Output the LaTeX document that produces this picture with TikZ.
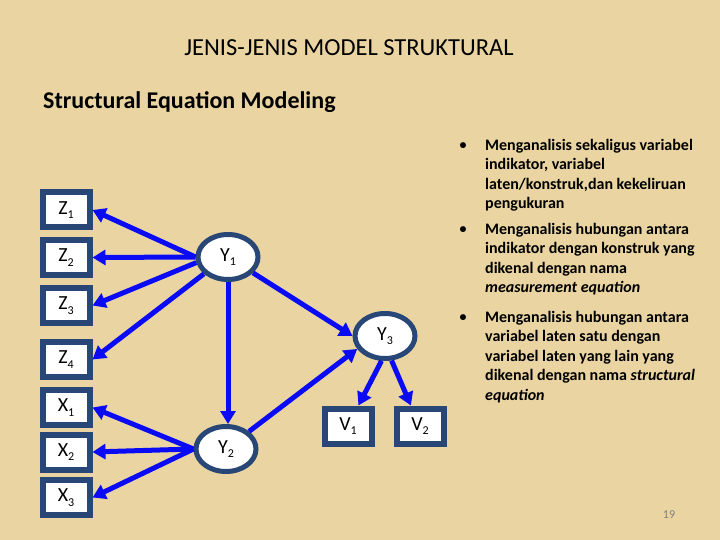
\documentclass[tikz,border=0pt]{standalone}
\usepackage{fontspec}
\setmainfont{Carlito}
\usetikzlibrary{arrows.meta,shapes.geometric}
\definecolor{bgtan}{RGB}{234,213,162}
\definecolor{boxblue}{RGB}{40,70,118}
\definecolor{arrblue}{RGB}{10,10,245}
\newcommand\lsub[1]{\raisebox{-0.45ex}{\fontsize{12}{12}\selectfont #1}}
\begin{document}
\begin{tikzpicture}[x=1pt,y=-1pt,
  obs/.style={draw=boxblue,line width=6pt,fill=white,minimum width=47pt,minimum height=35pt,inner sep=0pt,font=\fontsize{20}{20}\selectfont},
  lat/.style={ellipse,draw=boxblue,line width=5pt,fill=white,minimum width=60pt,minimum height=45pt,inner sep=0pt,font=\fontsize{20}{20}\selectfont},
  arr/.style={draw=arrblue,line width=5pt,-{Triangle[length=13pt,width=15pt]}},
  bul/.style={anchor=north west,inner sep=0pt,align=left,font=\fontsize{16}{19.5}\selectfont\bfseries},
  dot/.style={inner sep=0pt,font=\fontsize{14}{14}\selectfont\bfseries}]
\fill[bgtan] (0,0) rectangle (720,540);
\useasboundingbox (0,0) rectangle (720,540);
% titles
\node (title) at (349,48) {\fontsize{24.5}{24.5}\selectfont JENIS-JENIS MODEL STRUKTURAL};
\node[anchor=west,inner sep=0pt] (sub) at (43,102) {\fontsize{24}{24}\selectfont\bfseries Structural Equation Modeling};
% observed boxes
\node[obs] (Z1) at (66,210) {Z\lsub{1}};
\node[obs] (Z2) at (66,257.5) {Z\lsub{2}};
\node[obs] (Z3) at (66,305.5) {Z\lsub{3}};
\node[obs] (Z4) at (66,359.5) {Z\lsub{4}};
\node[obs] (X1) at (66,407.5) {X\lsub{1}};
\node[obs] (X2) at (66,452) {X\lsub{2}};
\node[obs] (X3) at (66,497.5) {X\lsub{3}};
\node[obs] (V1) at (348,426) {V\lsub{1}};
\node[obs] (V2) at (420,426) {V\lsub{2}};
% latent
\node[lat] (Y1) at (228,257) {Y\lsub{1}};
\node[lat] (Y2) at (226,449) {Y\lsub{2}};
\node[lat] (Y3) at (385,336) {Y\lsub{3}};
% arrows
\draw[arr] (Y1.west) -- (Z1.east);
\draw[arr] (Y1.west) -- (Z2.east);
\draw[arr] (Y1.190) -- (Z3.east);
\draw[arr] (Y1.215) -- (Z4.east);
\draw[arr] (Y1.south) -- (Y1.south |- Y2.north);
\draw[arr] (Y1) -- (Y3.west);
\draw[arr] (Y2.west) -- (X1.east);
\draw[arr] (Y2.west) -- (X2.east);
\draw[arr] (Y2.west) -- (X3.east);
\draw[arr] (Y2) -- (Y3.205);
\draw[arr] (Y3.262) -- (V1.63);
\draw[arr] (Y3.285) -- (V2.114);
% bullets
\node[dot] (b1) at (463,146) {•};
\node[dot] (b2) at (463,230) {•};
\node[dot] (b3) at (463,318) {•};
\node[bul] (t1) at (485,139) {Menganalisis sekaligus variabel\\indikator, variabel\\laten/konstruk,dan kekeliruan\\pengukuran};
\node[bul] (t2) at (485,223) {Menganalisis hubungan antara\\indikator dengan konstruk yang\\dikenal dengan nama\\\textit{measurement equation}};
\node[bul] (t3) at (485,311) {Menganalisis hubungan antara\\variabel laten satu dengan\\variabel laten yang lain yang\\dikenal dengan nama \textit{structural}\\\textit{equation}};
\node[text=gray,font=\fontsize{12}{12}\selectfont] (pg) at (669,515) {19};
\end{tikzpicture}
\end{document}
